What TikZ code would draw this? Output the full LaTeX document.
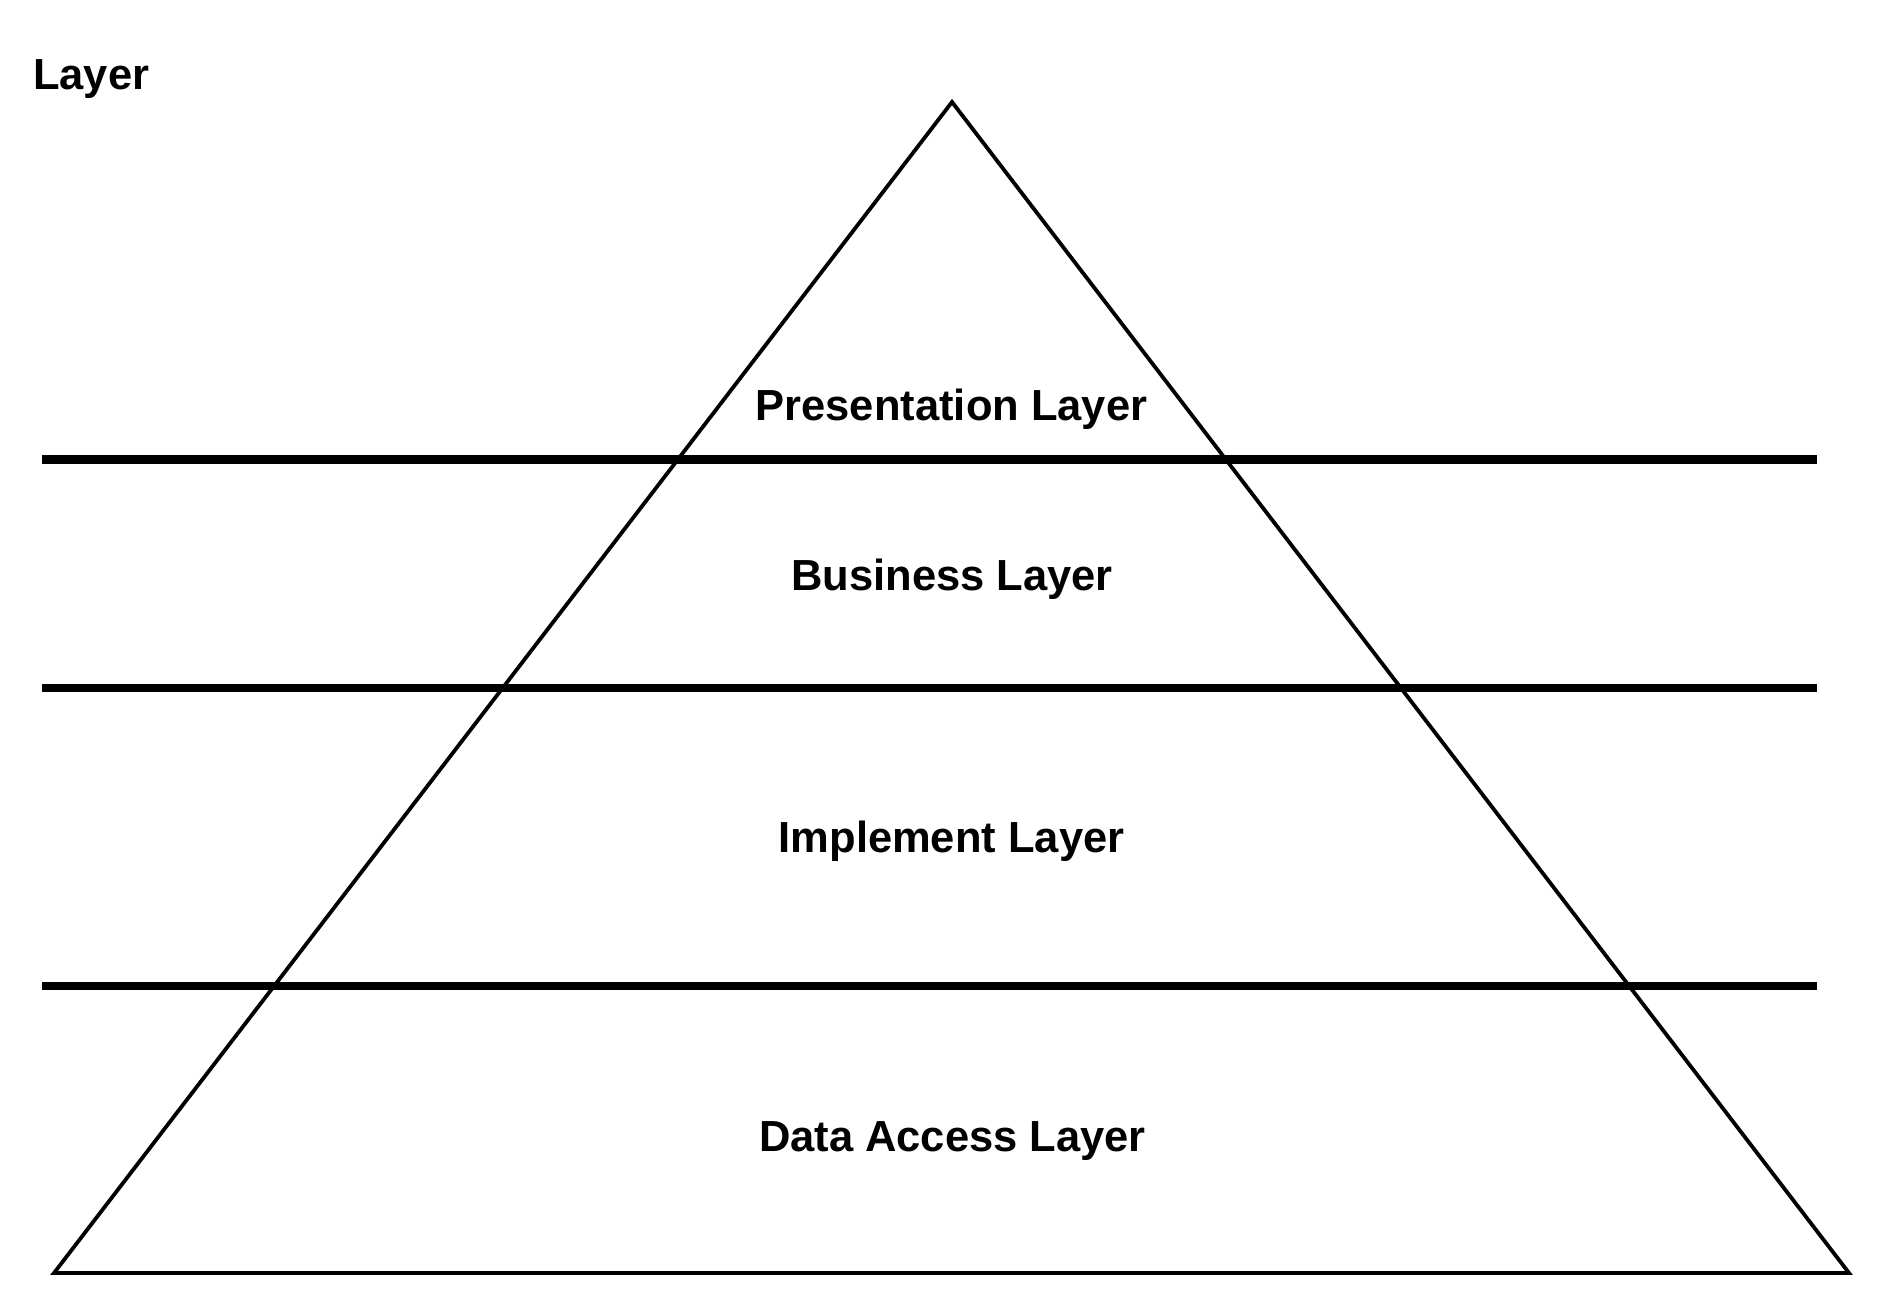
\documentclass[tikz,border=0pt]{standalone}
\usepackage{fontspec}
\setmainfont{Liberation Sans}
\begin{document}
\begin{tikzpicture}[x=1pt,y=-1pt,
  lbl/.style={font=\fontsize{43.5}{52}\selectfont\bfseries, inner sep=0pt, anchor=base},
  tri/.style={draw=black, line width=3.8pt, line join=miter},
  divider/.style={draw=black, line width=8.5pt, line cap=butt}]
\useasboundingbox (0,0) rectangle (1894,1300);
\fill[white] (0,0) rectangle (1894,1300);
% triangle
\coordinate (apex) at (952,102);
\coordinate (bl) at (54,1273);
\coordinate (br) at (1849,1273);
\draw[tri] (apex) -- (br) -- (bl) -- cycle;
% dividers
\coordinate (d1l) at (42,459.7);  \coordinate (d1r) at (1817,459.7);
\coordinate (d2l) at (42,688);    \coordinate (d2r) at (1817,688);
\coordinate (d3l) at (42,986);    \coordinate (d3r) at (1817,986);
\draw[divider] (d1l) -- (d1r);
\draw[divider] (d2l) -- (d2r);
\draw[divider] (d3l) -- (d3r);
% labels
\node[lbl, anchor=base west] (title) at (33,90) {Layer};
\node[lbl] (pres) at (951.5,420) {Presentation Layer};
\node[lbl] (bus) at (952,590.7) {Business Layer};
\node[lbl] (impl) at (951.5,852.7) {Implement Layer};
\node[lbl] (data) at (952.5,1151.7) {Data Access Layer};
\end{tikzpicture}
\end{document}
